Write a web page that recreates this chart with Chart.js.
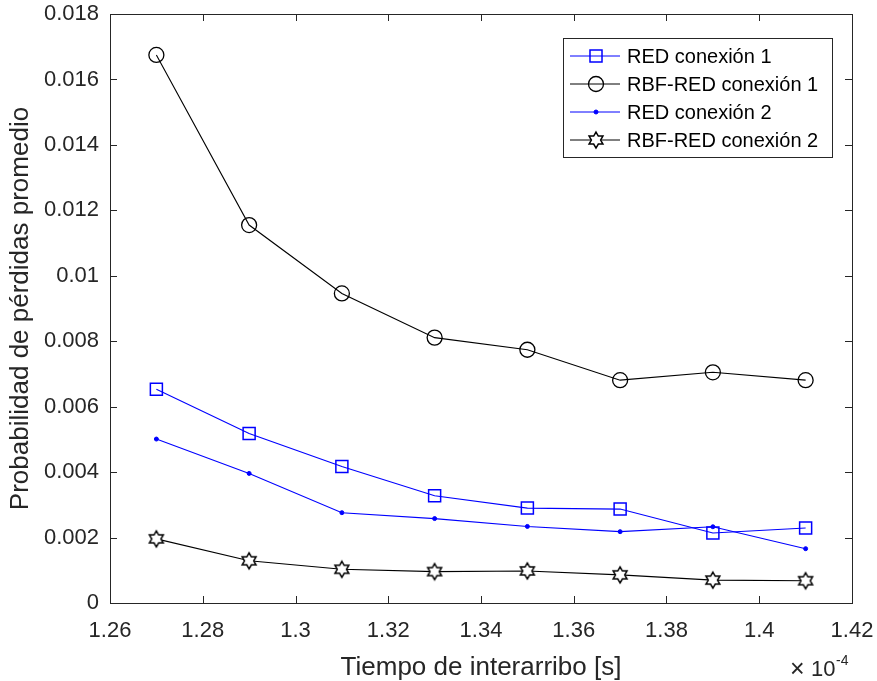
<!DOCTYPE html>
<html>
<head>
<meta charset="utf-8">
<script src="https://cdn.jsdelivr.net/npm/chart.js@4"></script>
<style>
html,body{margin:0;padding:0;background:#fff}
#wrap{width:877px;height:681px}
</style>
</head>
<body>
<div id="wrap"><canvas id="c" width="877" height="681"></canvas></div>
<script>

/* DATA (x in units of 1e-4 s) */

const tiempos = [1.27,1.29,1.31,1.33,1.35,1.37,1.39,1.41]

const redCon1 = [0.00653,0.00518,0.00417,0.00328,0.00290,0.00287,0.00214,0.00229]
const rbfCon1 = [0.01675,0.01155,0.00946,0.00811,0.00774,0.00681,0.00705,0.00681]
const redCon2 = [0.00501,0.00396,0.00276,0.00258,0.00234,0.00218,0.00233,0.00166]
const rbfCon2 = [0.00196,0.00129,0.00103,0.00096,0.00098,0.00086,0.00070,0.00068]

const xTicks = [1.26,1.28,1.30,1.32,1.34,1.36,1.38,1.40,1.42]
const yTicks = [0,0.002,0.004,0.006,0.008,0.01,0.012,0.014,0.016,0.018]

const nombres = ["RED conexión 1","RBF-RED conexión 1","RED conexión 2","RBF-RED conexión 2"]

const FONT = "'Liberation Sans', Arial, Helvetica, sans-serif"
const AXC = "#262626"


/* hexagram marker */

function hexagram(){

const cv = document.createElement("canvas")
cv.width = 20
cv.height = 20
const g = cv.getContext("2d")
const R = 8, r = R/Math.sqrt(3)
g.beginPath()
for(let i=0;i<12;i++){
const a = -Math.PI/2 + i*Math.PI/6
const rr = i%2==0 ? R : r
const px = 10+rr*Math.cos(a), py = 10+rr*Math.sin(a)
if(i==0) g.moveTo(px,py); else g.lineTo(px,py)
}
g.closePath()
g.fillStyle = "#fff"
g.fill()
g.lineWidth = 1.5
g.strokeStyle = "#000"
g.stroke()
return cv

}

const star = hexagram()


function pts(arr){
return tiempos.map((t,i)=>({x:t,y:arr[i]}))
}


/* FRAME, TICKS, LEGEND, EXPONENT */

const extras = {

id:"extras",

afterDraw(chart){

const ctx = chart.ctx
const a = chart.chartArea
const xs = chart.scales.x, ys = chart.scales.y

ctx.save()
ctx.strokeStyle = AXC
ctx.lineWidth = 1
ctx.strokeRect(Math.round(a.left)+0.5,Math.round(a.top)+0.5,Math.round(a.right-a.left),Math.round(a.bottom-a.top))

ctx.beginPath()
xTicks.forEach(v=>{
const p = Math.round(xs.getPixelForValue(v))+0.5
ctx.moveTo(p,a.bottom); ctx.lineTo(p,a.bottom-7)
ctx.moveTo(p,a.top); ctx.lineTo(p,a.top+7)
})
yTicks.forEach(v=>{
const p = Math.round(ys.getPixelForValue(v))+0.5
ctx.moveTo(a.left,p); ctx.lineTo(a.left+7,p)
ctx.moveTo(a.right,p); ctx.lineTo(a.right-7,p)
})
ctx.stroke()

/* legend */
const lx = 563, ly = 38, lw = 269, lh = 119
ctx.fillStyle = "#fff"
ctx.fillRect(lx,ly,lw,lh)
ctx.strokeStyle = AXC
ctx.strokeRect(lx+0.5,ly+0.5,lw,lh)

chart.data.datasets.forEach((ds,i)=>{
const yy = 56 + i*28
ctx.strokeStyle = ds.borderColor
ctx.lineWidth = 1
ctx.beginPath()
ctx.moveTo(570,yy); ctx.lineTo(620,yy)
ctx.stroke()
ctx.fillStyle = ds.pointBackgroundColor
ctx.strokeStyle = ds.pointBorderColor
ctx.lineWidth = ds.pointBorderWidth
Chart.helpers.drawPoint(ctx,{
pointStyle:ds.pointStyle,
radius:ds.pointRadius,
borderWidth:ds.pointBorderWidth
},596,yy)
ctx.fillStyle = "#000"
ctx.font = "20px "+FONT
ctx.textBaseline = "middle"
ctx.textAlign = "left"
ctx.fillText(ds.label,627,yy+1)
})

/* x10^-4 */
ctx.fillStyle = AXC
ctx.textBaseline = "alphabetic"
ctx.textAlign = "left"
ctx.font = "25px "+FONT
ctx.fillText("\u00d7",790,677)
ctx.font = "22px "+FONT
ctx.fillText("10",811,676)
ctx.font = "14px "+FONT
ctx.fillText("-4",836,665)

ctx.restore()

}

}


function mk(label,arr,color,style,r,fill,bw){

return {
label:label,
data:pts(arr),
borderColor:color,
backgroundColor:fill,
borderWidth:1.1,
pointStyle:style,
pointRadius:r,
pointHoverRadius:r,
pointBorderWidth:bw,
pointBorderColor:color,
pointBackgroundColor:fill,
tension:0
}

}


new Chart(

document.getElementById("c"),

{

type:"line",

data:{

datasets:[
mk(nombres[0],redCon1,"#0000ff","rect",8.5,"rgba(0,0,0,0)",1.5),
mk(nombres[1],rbfCon1,"#000000","circle",7.5,"rgba(0,0,0,0)",1.3),
mk(nombres[2],redCon2,"#0000ff","circle",2,"#0000ff",1),
mk(nombres[3],rbfCon2,"#000000",star,8,"#fff",1)
]

},

options:{

responsive:false,
animation:false,
events:[],
layout:{padding:{left:0,top:14,right:25,bottom:0}},

plugins:{
legend:{display:false},
tooltip:{enabled:false}
},

scales:{

x:{
type:"linear",
min:1.26,
max:1.42,
afterFit:s=>{
s.height=78
s.paddingLeft=0
s.paddingRight=0
},
afterBuildTicks:s=>{s.ticks = xTicks.map(v=>({value:v}))},
grid:{display:false,drawTicks:false},
border:{display:false},
ticks:{
padding:15,
color:AXC,
font:{family:FONT,size:22},
maxRotation:0,
callback:v=>String(+v.toFixed(2))
},
title:{
display:true,
text:"Tiempo de interarribo [s]",
color:AXC,
font:{family:FONT,size:26,lineHeight:1},
padding:{top:0,bottom:0}
}
},

y:{
min:0,
max:0.018,
afterFit:s=>{
s.width=110
s.paddingTop=0
s.paddingBottom=0
},
afterBuildTicks:s=>{s.ticks = yTicks.map(v=>({value:v}))},
grid:{display:false,drawTicks:false},
border:{display:false},
ticks:{
padding:11,
color:AXC,
font:{family:FONT,size:22},
callback:v=>String(+v.toFixed(4))
},
title:{
display:true,
text:"Probabilidad de pérdidas promedio",
color:AXC,
font:{family:FONT,size:26,lineHeight:1},
padding:{top:8,bottom:0}
}
}

}

},

plugins:[extras]

}

)

</script>
</body>
</html>
